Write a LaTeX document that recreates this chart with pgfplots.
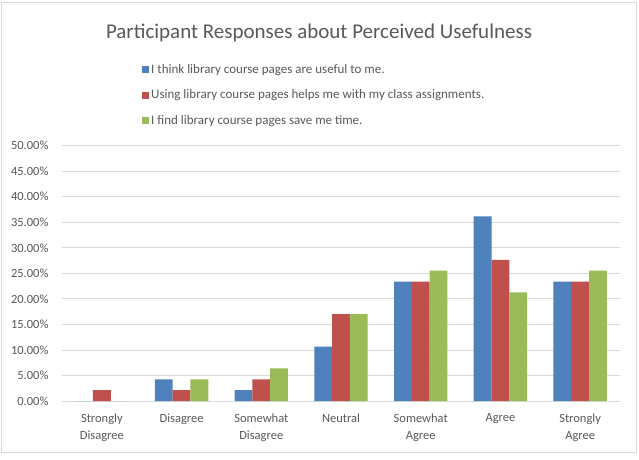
\documentclass[border=0pt]{standalone}
\usepackage{pgfplots}
\pgfplotsset{compat=1.18}
\usepackage{fontspec}
\setmainfont{Carlito}
\definecolor{sblue}{HTML}{4F81BD}
\definecolor{sred}{HTML}{C0504D}
\definecolor{sgreen}{HTML}{9BBB59}
\definecolor{txt}{HTML}{595959}
\definecolor{gridc}{HTML}{D9D9D9}
\begin{document}
\begin{tikzpicture}
% page area and chart frame
\path[fill=white] (0pt,0pt) rectangle (639pt,459pt);
\draw[gridc, line width=0.8pt] (1.5pt,6.5pt) rectangle (636.7pt,457pt);
\node[text=txt, font=\fontsize{21}{24}\selectfont] at (319pt,426pt) {Participant Responses about Perceived Usefulness};
\begin{axis}[
  at={(62pt,58pt)}, anchor=south west,
  scale only axis, width=558pt, height=255.3pt,
  xmin=-0.5, xmax=6.5, ymin=0, ymax=50,
  ybar=0pt, bar width=17.8pt,
  xtick={0,...,6},
  xticklabels={{Strongly\\Disagree},Disagree,{Somewhat\\Disagree},Neutral,{Somewhat\\Agree},Agree,{Strongly\\Agree}},
  xticklabel style={align=center, text=txt, font=\fontsize{12.5}{17}\selectfont, yshift=-9pt},
  ytick={0,5,...,50},
  yticklabel={\pgfmathprintnumber[fixed,fixed zerofill,precision=2]{\tick}\%},
  yticklabel style={text=txt, font=\fontsize{12.5}{15}\selectfont, xshift=-10pt},
  /pgf/number format/assume math mode=true,
  ymajorgrids, grid style={gridc, line width=0.8pt},
  axis x line*=bottom, axis y line*=left,
  x axis line style={gridc, line width=0.8pt, -},
  y axis line style={draw=none},
  major tick length=0pt,
  tick style={draw=none},
  legend cell align=left,
  legend style={at={(0.138,1.335)}, anchor=north west, draw=none, fill=none,
    font=\fontsize{13}{15}\selectfont, text=txt, row sep=11pt},
  legend image code/.code={\fill[#1] (0pt,-3.5pt) rectangle (7pt,3.5pt);},
]
\addplot[fill=sblue, draw=none] coordinates {(0,0) (1,4.26) (2,2.13) (3,10.64) (4,23.40) (5,36.17) (6,23.40)};
\addplot[fill=sred, draw=none] coordinates {(0,2.13) (1,2.13) (2,4.26) (3,17.02) (4,23.40) (5,27.66) (6,23.40)};
\addplot[fill=sgreen, draw=none] coordinates {(0,0) (1,4.26) (2,6.38) (3,17.02) (4,25.53) (5,21.28) (6,25.53)};
\legend{I think library course pages are useful to me.,Using library course pages helps me with my class assignments.,I find library course pages save me time.}
\end{axis}
\end{tikzpicture}
\end{document}
